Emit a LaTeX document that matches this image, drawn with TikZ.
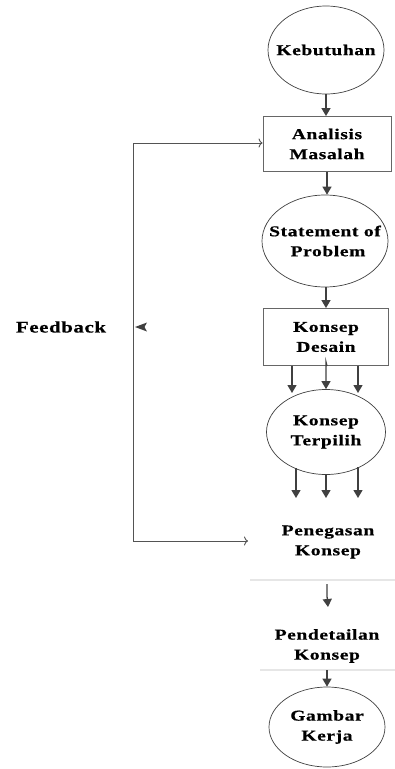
\documentclass[tikz,border=0pt]{standalone}
\usepackage{fontspec}
\setmainfont{Liberation Serif}
\newfontfamily\flowfont[FakeStretch=1.3,LetterSpace=4,FakeBold=0.6]{Liberation Serif}
\usetikzlibrary{shapes.geometric,arrows.meta}
\definecolor{lineclr}{HTML}{404040}
\definecolor{sepclr}{HTML}{E6E6E6}
\tikzset{
  lbl/.style={font=\flowfont\bfseries\fontsize{15}{20}\selectfont, align=center, text=black, inner sep=0pt},
  ell/.style={ellipse, draw=lineclr, line width=0.7pt, inner sep=0pt},
  boxnode/.style={lbl, rectangle, draw=lineclr!80, line width=0.9pt},
  flow/.style={draw=lineclr, line width=1.3pt, -{Triangle[width=9pt,length=8pt]}},
  back/.style={draw=lineclr!90, line width=0.9pt, -{To[width=9pt,length=4pt]}},
  sep/.style={draw=sepclr, line width=2pt}
}
\begin{document}
\begin{tikzpicture}[x=1pt,y=-1pt]
\useasboundingbox (0,0) rectangle (395,769);

% ellipse outlines, then their captions
\node[ell, minimum width=116pt, minimum height=88pt] (keb) at (326,50) {};
\node[ell, minimum width=126pt, minimum height=92pt] (sta) at (325,241) {};
\node[ell, minimum width=119pt, minimum height=85pt] (kte) at (326,432) {};
\node[ell, minimum width=116pt, minimum height=80pt] (gam) at (327,727) {};
\node[lbl] (kebt) at (keb) {Kebutuhan};
\node[lbl] (stat) at (sta) {Statement of\\\hspace*{6pt}Problem};
\node[lbl] (ktet) at (kte) {Konsep\\Terpilih};
\node[lbl] (gamt) at (gam) {Gambar\\Kerja};

% boxes and plain steps
\node[boxnode, minimum width=128pt, minimum height=55pt] (ana) at (327,144) {Analisis\\Masalah};
\node[boxnode, minimum width=125pt, minimum height=57pt] (kde) at (326,337) {Konsep\\Desain};
\node[lbl] (peg) at (328,542) {Penegasan\\Konsep};
\node[lbl] (pen) at (327,646) {Pendetailan\\Konsep};
\node[lbl, font=\flowfont\bfseries\fontsize{16}{20}\selectfont] (fb) at (61,327) {Feedback};

% separators
\coordinate (s1a) at (250,580); \coordinate (s1b) at (395,580);
\coordinate (s2a) at (260,670); \coordinate (s2b) at (395,670);
\draw[sep] (s1a) -- (s1b);
\draw[sep] (s2a) -- (s2b);

% straight flow arrows
\draw[flow] (keb.south) -- (keb.south |- ana.north);
\draw[flow] (ana.south) -- (ana.south |- sta.north);
\draw[flow] (sta.south -| 326,0) -- (kde.north);

% three branches into the selected concept
\draw[flow] (kde.south -| 292,0) -- (292,393);
\draw[flow] (kde.south -| 327,0) -- (326,362) -- (kte.north);
\draw[flow] (kde.south -| 358,0) -- (358,393);

% three branches below the selected concept
\coordinate (t1) at (296,498); \coordinate (t2) at (326,498); \coordinate (t3) at (358,498);
\draw[flow] (296,468) -- (t1);
\draw[flow] (kte.south) -- (t2);
\draw[flow] (358,467) -- (t3);

% lower steps
\coordinate (p1) at (327,584); \coordinate (p2) at (328,607);
\draw[flow] (p1) -- (327,596) -- (p2);
\coordinate (q1) at (327,670);
\draw[flow] (q1) -- (gam.north);

% feedback loop
\coordinate (fl1) at (133,143);
\coordinate (fl2) at (133,541);
\coordinate (fl3) at (248,541);
\draw[back] (fl2) -- (fl1) -- (ana.west |- fl1);
\draw[back] (fl2) -- (fl3);
\fill[lineclr] (135,327) -- (147,322.5) -- (144.5,327) -- (147,331.5) -- cycle;
\end{tikzpicture}
\end{document}
